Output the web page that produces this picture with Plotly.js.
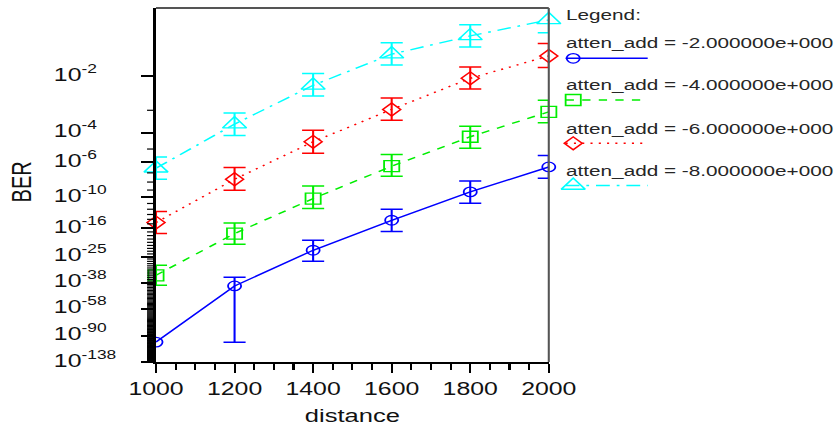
<!DOCTYPE html>
<html>
<head>
<meta charset="utf-8">
<script src="https://cdn.plot.ly/plotly-3.0.1.min.js"></script>
<style>
html,body{margin:0;padding:0;background:#fff;}
#wrap{width:838px;height:427px;overflow:hidden;position:relative;}
#chart{width:607px;height:427px;transform:scaleX(1.3806);transform-origin:0 0;}
</style>
</head>
<body>
<div id="wrap"><div id="chart"></div></div>
<script>
// ---------- data (BER given as log10 exponents; null = no error bar) ----------
const distance = [1000, 1200, 1400, 1600, 1800, 2000];
const seriesNames = ['atten_add = -2.000000e+000', 'atten_add = -4.000000e+000',
                     'atten_add = -6.000000e+000', 'atten_add = -8.000000e+000'];

const logBER_a2   = [-99.5, -40.0, -22.65, -14.2, -9.25, -6.43];
const logBERhi_a2 = [null, -34.8, -19.36, -12.0, -7.87, -5.47];
const logBERlo_a2 = [null, -99.9, -26.95, -16.9, -10.96, -7.56];

const logBER_a4   = [-33.7, -17.44, -10.21, -6.36, -4.23, -3.06];
const logBERhi_a4 = [-28.72, -14.80, -8.47, -5.39, -3.68, -2.65];
const logBERlo_a4 = [-39.57, -20.61, -11.88, -7.35, -4.94, -3.52];

const logBER_a6   = [-14.71, -7.68, -4.53, -2.97, -2.05, -1.61];
const logBERhi_a6 = [-12.43, -6.48, -3.88, -2.58, -1.81, -1.42];
const logBERlo_a6 = [-17.44, -9.02, -5.30, -3.40, -2.32, -1.82];

const logBER_a8   = [-6.55, -3.58, -2.22, -1.58, -1.32, -1.14];
const logBERhi_a8 = [-5.58, -3.10, -1.94, -1.41, -1.19, -1.02];
const logBERlo_a8 = [-7.68, -4.16, -2.52, -1.77, -1.47, -1.28];

const yTickExps   = [-2, -4, -6, -10, -16, -25, -38, -58, -90, -138];
const yTickLabels = ['10<sup>-2</sup>', '10<sup>-4</sup>', '10<sup>-6</sup>', '10<sup>-10</sup>',
                     '10<sup>-16</sup>', '10<sup>-25</sup>', '10<sup>-38</sup>', '10<sup>-58</sup>',
                     '10<sup>-90</sup>', '10<sup>-138</sup>'];
const yTopExp = -1.03, yBottomExp = -138;

// ---------- BER scale: Q-function scale (log of Q) ----------
function lnQfun(q) {
  const z = q / Math.SQRT2, t = 1 / (1 + 0.5 * z);
  const p = -z*z - 1.26551223 + t*(1.00002368 + t*(0.37409196 + t*(0.09678418 + t*(-0.18628806 +
            t*(0.27886807 + t*(-1.13520398 + t*(1.48851587 + t*(-0.82215223 + t*0.17087277))))))));
  return Math.log(0.5) + Math.log(t) + p;
}
function qOf(exp10) {
  if (exp10 === null || exp10 === undefined) return NaN;
  const target = exp10 * Math.LN10;
  let a = 0.001, b = 60;
  for (let i = 0; i < 120; i++) { const m = (a + b) / 2; if (lnQfun(m) > target) a = m; else b = m; }
  return (a + b) / 2;
}
const Q = arr => arr.map(qOf);

const FONT = 'Liberation Sans, Arial, sans-serif';
const styles = [
  {color: '#0000ff', dash: 'solid',            symbol: 'circle-open',      size: 9.5},
  {color: '#00ee00', dash: '6px,6px',          symbol: 'square-open',      size: 11},
  {color: '#ff0000', dash: '1.5px,4.5px',      symbol: 'diamond-open',     size: 10},
  {color: '#00ffff', dash: '10px,5px,2px,5px', symbol: 'triangle-up-open', size: 15}
];
const pts = [logBER_a2, logBER_a4, logBER_a6, logBER_a8];
const his = [logBERhi_a2, logBERhi_a4, logBERhi_a6, logBERhi_a8];
const los = [logBERlo_a2, logBERlo_a4, logBERlo_a6, logBERlo_a8];

const W = 607, L = 112.5, plotW = W - L, plotRight = 397.29;
const plotAreaW = plotRight - L;
const xDomEnd = plotAreaW / plotW;
const paperX = px => (px - L) / plotW;

const yRange = [Math.log10(qOf(yBottomExp)), Math.log10(qOf(yTopExp))];
const majorQ = yTickExps.map(qOf);
const minorExps = [];
for (let k = 3; k <= 137; k++) if (!yTickExps.includes(-k)) minorExps.push(-k);
const yDomFrac = e => (Math.log10(qOf(e)) - yRange[0]) / (yRange[1] - yRange[0]);

const traces = [];
pts.forEach((p, i) => {
  const s = styles[i];
  const qp = Q(p), qh = Q(his[i]), ql = Q(los[i]);
  traces.push({
    x: distance, y: qp, xaxis: 'x', yaxis: 'y', mode: 'lines+markers', name: seriesNames[i],
    line: {color: s.color, width: 1.4, dash: s.dash},
    marker: {symbol: s.symbol, size: s.size, color: s.color, line: {color: s.color, width: 1.3}},
    error_y: {type: 'data', symmetric: false,
              array: ql.map((v, j) => v - qp[j]), arrayminus: qp.map((v, j) => v - qh[j]),
              color: s.color, thickness: 1.5, width: 8},
    cliponaxis: false, showlegend: false, hoverinfo: 'skip'
  });
});

// ---------- legend (custom: text above sample) ----------
const legTextX = 407.3, legLineX0 = 409.5, legLineX1 = 469, legMarkX = 415;
const legTextY = [42.5, 84.9, 128.3, 170];
const legSampleY = [58.3, 100, 143.3, 185.5];
styles.forEach((s, i) => {
  traces.push({x: [legLineX0, legLineX1], y: [legSampleY[i], legSampleY[i]], xaxis: 'x2', yaxis: 'y2',
    mode: 'lines', line: {color: s.color, width: 1.4, dash: s.dash}, showlegend: false, hoverinfo: 'skip', cliponaxis: false});
  traces.push({x: [legMarkX], y: [legSampleY[i]], xaxis: 'x2', yaxis: 'y2', mode: 'markers',
    marker: {symbol: s.symbol, size: s.size, color: s.color, line: {color: s.color, width: 1.3}},
    showlegend: false, hoverinfo: 'skip', cliponaxis: false});
});

const annotations = [];
yTickExps.forEach((e, i) => {
  annotations.push({xref: 'paper', x: paperX(36.2), xanchor: 'left', yref: 'y', y: Math.log10(qOf(e)),
    yanchor: 'middle', yshift: 3, text: yTickLabels[i], showarrow: false,
    font: {family: FONT, size: 18, color: '#111'}});
});
annotations.push({xref: 'paper', x: paperX(14.8), xanchor: 'center', yref: 'paper', y: 0.5085, yanchor: 'middle',
  text: 'BER', textangle: -90, showarrow: false, font: {family: FONT, size: 20, color: '#111'}});
annotations.push({xref: 'x2', x: legTextX, xanchor: 'left', yref: 'y2', y: 14.8, yanchor: 'middle',
  text: 'Legend:', showarrow: false, font: {family: FONT, size: 15, color: '#262626'}});
seriesNames.forEach((n, i) => {
  annotations.push({xref: 'x2', x: legTextX, xanchor: 'left', yref: 'y2', y: legTextY[i], yanchor: 'middle',
    text: n, showarrow: false, font: {family: FONT, size: 15, color: '#262626'}});
});

// frame + minor y ticks (one per decade of BER), in paper coords so they are not clipped
const shapes = [
  {type: 'line', xref: 'paper', yref: 'paper', x0: 0, x1: xDomEnd, y0: 1, y1: 1, line: {color: '#555', width: 2}},
  {type: 'line', xref: 'paper', yref: 'paper', x0: xDomEnd, x1: xDomEnd, y0: 0, y1: 1, line: {color: '#555', width: 1.5}}
];
const minorLen = 6.5 / plotW;
minorExps.forEach(e => {
  const f = yDomFrac(e);
  shapes.push({type: 'line', layer: 'above', xref: 'paper', yref: 'paper', x0: -minorLen, x1: 0, y0: f, y1: f,
    line: {color: '#000', width: 1.2}});
});

const layout = {
  width: W, height: 427,
  margin: {l: L, r: 0, t: 8, b: 65},
  paper_bgcolor: '#fff', plot_bgcolor: '#fff',
  showlegend: false,
  font: {family: FONT, color: '#111'},
  xaxis: {
    domain: [0, xDomEnd], anchor: 'y', range: [1000, 2000],
    tickmode: 'linear', tick0: 1000, dtick: 200,
    ticks: 'outside', ticklen: 9, tickwidth: 1.5, tickcolor: '#000',
    showline: true, linecolor: '#000', linewidth: 2,
    showgrid: false, zeroline: false,
    minor: {ticks: 'outside', dtick: 50, tick0: 1000, ticklen: 6, tickwidth: 1.5, tickcolor: '#000', showgrid: false},
    tickfont: {family: FONT, size: 18, color: '#111'},
    title: {text: 'distance', font: {family: FONT, size: 18.5, color: '#111'}, standoff: 11}
  },
  yaxis: {
    domain: [0, 1], anchor: 'x', type: 'log', range: yRange,
    tickmode: 'array', tickvals: majorQ, showticklabels: false,
    ticks: 'outside', ticklen: 8.7, tickwidth: 2, tickcolor: '#000',
    showline: true, linecolor: '#000', linewidth: 2,
    showgrid: false, zeroline: false
  },
  xaxis2: {domain: [paperX(405), 1], anchor: 'y2', range: [405, 607], visible: false},
  yaxis2: {domain: [0, 1], anchor: 'x2', range: [362, 8], visible: false},
  shapes: shapes,
  annotations: annotations
};

Plotly.newPlot('chart', traces, layout, {staticPlot: true, displayModeBar: false});
</script>
</body>
</html>
